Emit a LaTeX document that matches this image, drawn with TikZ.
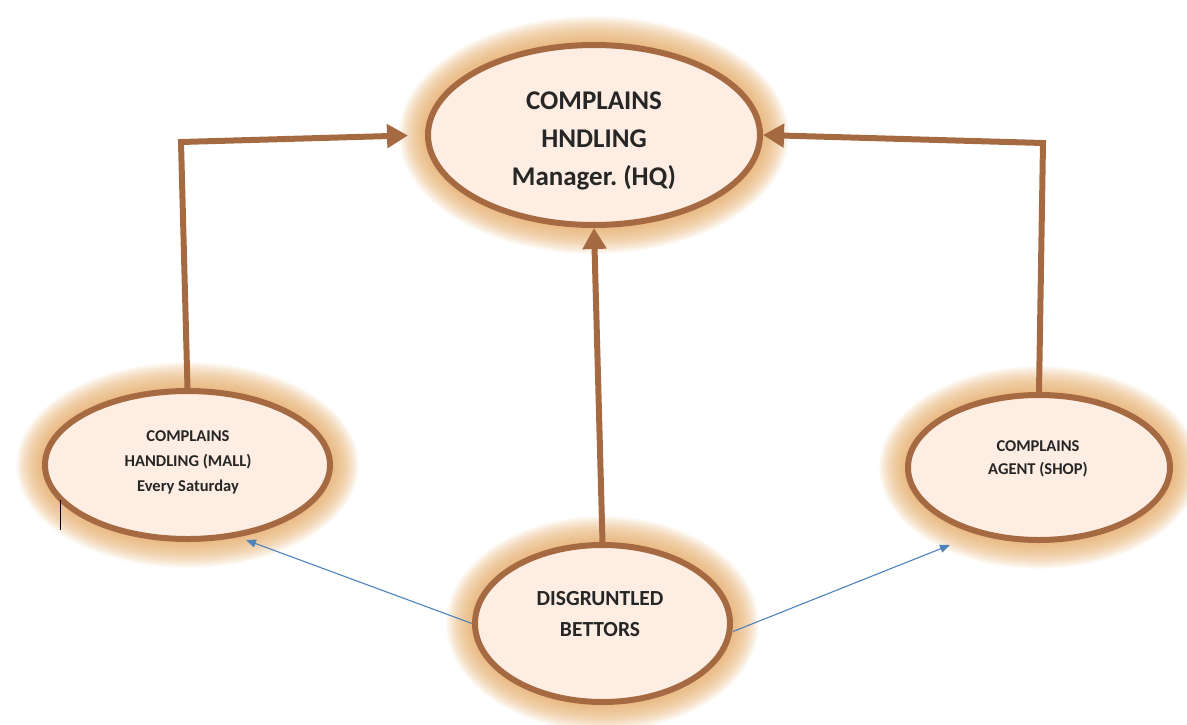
\documentclass[tikz,border=0pt]{standalone}
\usepackage{fontspec}
\setmainfont{Carlito}
\usetikzlibrary{shapes.geometric,arrows.meta}
\definecolor{rim}{HTML}{A66A42}
\definecolor{pale}{HTML}{FDEDE2}
\definecolor{halo}{HTML}{E3A65E}
\definecolor{thin}{HTML}{4F81BD}
\tikzset{
  bubble/.style={ellipse, draw=rim, line width=6pt, fill=pale, inner sep=0pt},
  caption/.style={align=center, font=\bfseries, text=black!85},
  thick arrow/.style={draw=rim, line width=6pt, line join=miter,
    -{Triangle[length=21pt,width=23pt]}},
  thin arrow/.style={draw=thin, line width=1.1pt,
    -{Triangle[length=10pt,width=8pt]}},
}
\frenchspacing
% soft orange halo round an ellipse: centre, half width, half height
\newcommand{\halo}[3]{%
  \foreach \i in {26,25,...,1}{%
    \fill[halo, opacity=0.05] #1 ellipse ({#2+\i pt} and {#3+\i pt});
  }%
}
\begin{document}
\begin{tikzpicture}[x=1pt,y=-1pt]
\useasboundingbox (0,0) rectangle (1187,724);

% halos behind the bubbles
\halo{(594,135)}{169}{93}
\halo{(187.5,465)}{145.5}{77}
\halo{(1039,467.5)}{134}{75.5}
\halo{(602.5,623.5)}{130.5}{81.5}

% bubbles
\node[bubble, minimum width=332pt, minimum height=180pt] (hq) at (594,135) {};
\node[bubble, minimum width=285pt, minimum height=148pt] (mall) at (187.5,465) {};
\node[bubble, minimum width=262pt, minimum height=145pt] (shop) at (1039,467.5) {};
\node[bubble, minimum width=255pt, minimum height=157pt] (bets) at (602.5,623.5) {};

% texts
\node[caption, font=\bfseries\fontsize{27}{38}\selectfont] (hqtext) at (594,141)
  {COMPLAINS\\HNDLING\\Manager. (HQ)};
\node[caption, font=\bfseries\fontsize{16.5}{25}\selectfont] (malltext) at (188,462)
  {COMPLAINS\\HANDLING (MALL)\\Every Saturday};
\node[caption, font=\bfseries\fontsize{16.5}{23.5}\selectfont] (shoptext) at (1038,459)
  {COMPLAINS\\AGENT (SHOP)};
\node[caption, font=\bfseries\fontsize{21.5}{31}\selectfont] (betstext) at (600,614)
  {DISGRUNTLED\\BETTORS};

% corner points of the elbow connectors
\coordinate (lbend) at (181,142);
\coordinate (rbend) at (1043,143);
% free ends of the thin arrows
\coordinate (malltip) at (246,540);
\coordinate (shoptip) at (950,545);

% thick connectors into the HQ bubble
\draw[thick arrow, shorten >=17pt] (mall.north) -- (lbend) -- (hq.west);
\draw[thick arrow] (shop.north) -- (rbend) -- (hq.east);
\draw[thick arrow] (bets.north) -- (hq.south);

% thin connectors out of the bettors bubble
\draw[thin arrow] (bets.west) -- (malltip);
\draw[thin arrow] ([yshift=-8pt]bets.east) -- (shoptip);

% stray text cursor mark
\coordinate (cur1) at (60,500);
\coordinate (cur2) at (60,530);
\draw[black, line width=0.9pt] (cur1) -- (cur2);
\end{tikzpicture}
\end{document}
